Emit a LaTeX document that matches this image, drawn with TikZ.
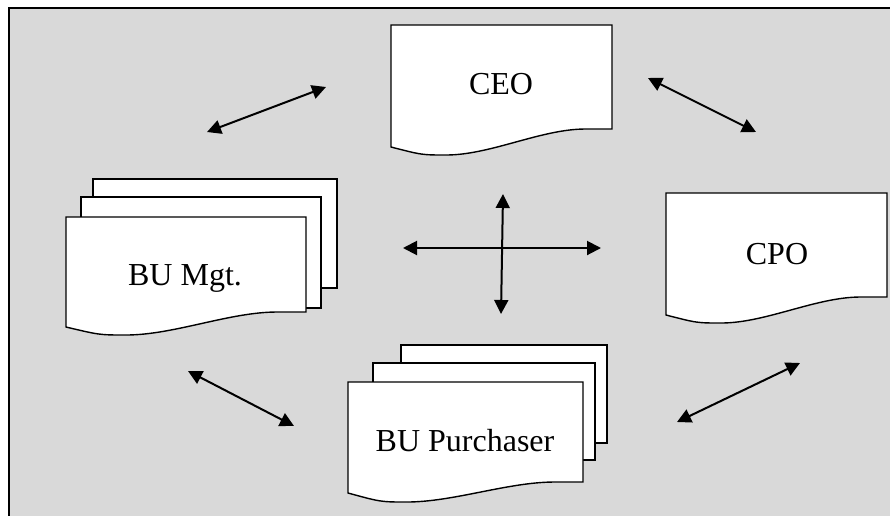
\documentclass[tikz,border=0pt]{standalone}
\usepackage{fontspec}
\setmainfont{Liberation Serif}
\usetikzlibrary{arrows.meta}
\definecolor{panel}{RGB}{217,217,217}
\tikzset{
  sheet/.style={draw=black, fill=white, line width=1.4pt, line join=miter},
  link/.style={line width=2pt, {Triangle[length=14pt,width=14pt]}-{Triangle[length=14pt,width=14pt]}},
  lbl/.style={font=\fontsize{32}{38}\selectfont, inner sep=0pt},
}
% document sheet with wavy lower edge:
% #1 left, #2 top, #3 width, #4 right depth, #5 left depth, #6 dip depth
\newcommand\wavesheet[6]{%
  \path[sheet] (#1,#2) -- (#1+#3,#2) -- (#1+#3,#2+#4) -- (#1+0.88*#3,#2+#4)
    .. controls (#1+0.68*#3,#2+#4) and (#1+0.45*#3,#2+#6) .. (#1+0.25*#3,#2+#6)
    .. controls (#1+0.14*#3,#2+#6) .. (#1,#2+#5) -- cycle;}
\begin{document}
\begin{tikzpicture}[x=1pt,y=-1pt]
  \useasboundingbox (0,0) rectangle (890,515);
  % background panel
  \path[fill=panel, draw=black, line width=2pt] (9,8) rectangle (905,530);

  % CEO
  \wavesheet{391}{25}{221}{104}{122}{130}
  \node[lbl] (ceo) at (501,84) {CEO};

  % CPO
  \wavesheet{666}{193}{221}{104}{122}{130}
  \node[lbl] (cpo) at (777,254) {CPO};

  % BU Mgt. stack
  \path[sheet] (93,179) rectangle (337,288);
  \path[sheet] (81,197) rectangle (321,308);
  \wavesheet{66}{217}{240}{95}{110}{118}
  \node[lbl] (bumgt) at (185,278) {BU Mgt.};

  % BU Purchaser stack
  \path[sheet] (401,345) rectangle (607,443);
  \path[sheet] (373,363) rectangle (595,460);
  \wavesheet{348}{382}{235}{100}{111}{120}
  \node[lbl] (bupur) at (465,441) {BU Purchaser};

  % arrow end points
  \coordinate (a1s) at (207,132); \coordinate (a1e) at (326,87);
  \coordinate (a2s) at (648,78);  \coordinate (a2e) at (756,132);
  \coordinate (a3s) at (188,371); \coordinate (a3e) at (294,426);
  \coordinate (a4s) at (677,422); \coordinate (a4e) at (800,363);
  \coordinate (hl) at (403,248);  \coordinate (hr) at (601,248);
  \coordinate (vt) at (503,194);  \coordinate (vb) at (501,314);

  \draw[link] (a1s) -- (a1e);
  \draw[link] (a2s) -- (a2e);
  \draw[link] (a3s) -- (a3e);
  \draw[link] (a4s) -- (a4e);
  \draw[link] (hl) -- (hr);
  \draw[link] (vt) -- (vb);
\end{tikzpicture}
\end{document}
